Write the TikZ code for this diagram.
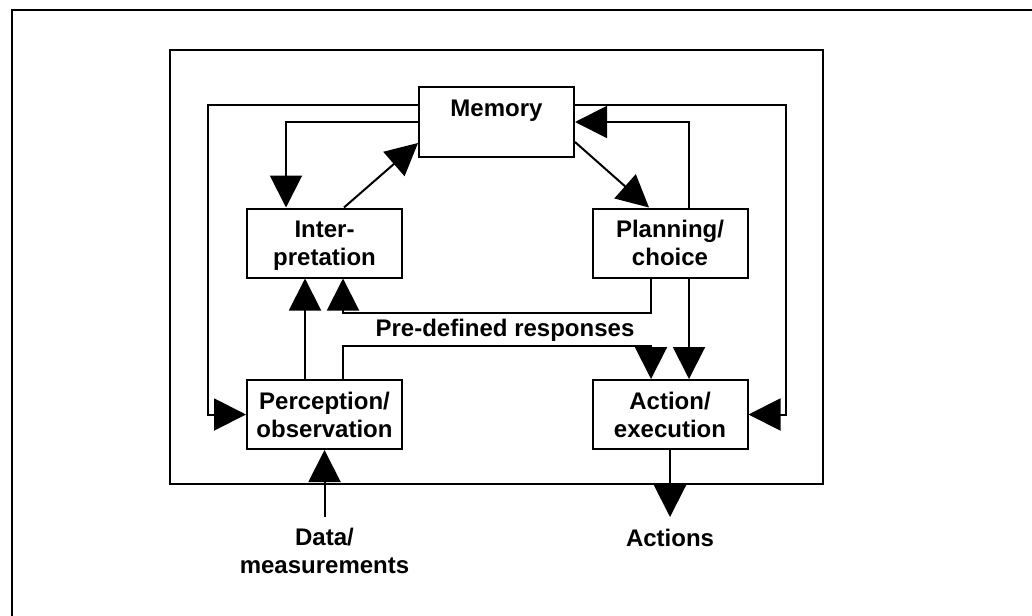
\documentclass[tikz,border=0pt]{standalone}
\usepackage{fontspec}
\setmainfont{Liberation Sans}
\usetikzlibrary{arrows.meta,calc}
\tikzset{
  box/.style={draw, line width=2pt, minimum width=155pt, minimum height=69pt, inner sep=0pt, align=center, text depth=0pt},
  conn/.style={line width=2pt},
  arr/.style={line width=2pt, -{Triangle[length=32pt,width=32pt]}},
  lbl/.style={inner sep=0pt, align=center},
}
\begin{document}
\begin{tikzpicture}[x=1pt,y=-1pt,font=\fontsize{24}{28}\selectfont\bfseries]
\useasboundingbox (0,0) rectangle (1032,615);
% outer frame (cropped)
\draw[conn] (12,640) -- (12,10) -- (1060,10);
% inner frame
\draw[conn] (170,50) rectangle (823,484);

\node[box] (mem) at (496.5,122) {Memory\\\mbox{}};
\node[box] (interp) at (324.5,243) {Inter-\\pretation};
\node[box] (plan) at (670,243) {Planning/\\choice};
\node[box] (perc) at (324.5,414.5) {Perception/\\observation};
\node[box] (act) at (670,414.5) {Action/\\execution};

\coordinate (datain) at (324.5,517);
\coordinate (actout) at (670,517);

% Memory -> Perception (outer left loop)
\draw[arr] ([yshift=17pt]mem.west) -| ([xshift=-38pt]perc.west) -- (perc.west);
% Memory -> Interpretation
\draw[arr] (mem.west) -| ([xshift=-38.5pt]interp.north);
% Interpretation -> Memory
\draw[arr] ([xshift=19.5pt]interp.north) -- ([yshift=-21pt]mem.west);
% Memory -> Planning
\draw[arr] ([yshift=-20pt]mem.east) -- ([xshift=-21pt]plan.north);
% Planning -> Memory
\draw[arr] ([xshift=19pt]plan.north) |- (mem.east);
% Memory -> Action (outer right loop)
\draw[arr] ([yshift=17pt]mem.east) -| ([xshift=37.5pt]act.east) -- (act.east);
% Planning -> Interpretation
\draw[arr] ([xshift=-19pt]plan.south) |- ([xshift=18.5pt,yshift=-34.5pt]interp.south) -- ([xshift=18.5pt]interp.south);
% Planning -> Action
\draw[arr] ([xshift=19pt]plan.south) -- ([xshift=19pt]act.north);
% Perception -> Interpretation
\draw[arr] ([xshift=-19.5pt]perc.north) -- ([xshift=-19.5pt]interp.south);
% Perception -> Action (pre-defined responses)
\draw[arr] ([xshift=18.5pt]perc.north) |- ([xshift=-19pt,yshift=33pt]act.north) -- ([xshift=-19pt]act.north);
% Data in
\draw[arr] (datain) -- (perc.south);
% Actions out
\draw[arr] (act.south) -- (actout);

\node[lbl, anchor=base] (pdr) at (505,336) {Pre-defined responses};
\node[lbl, anchor=base] (actions) at (670,546) {Actions};
\node[lbl, anchor=north] (data) at (324.5,527.5) {Data/\\measurements};
\end{tikzpicture}
\end{document}
